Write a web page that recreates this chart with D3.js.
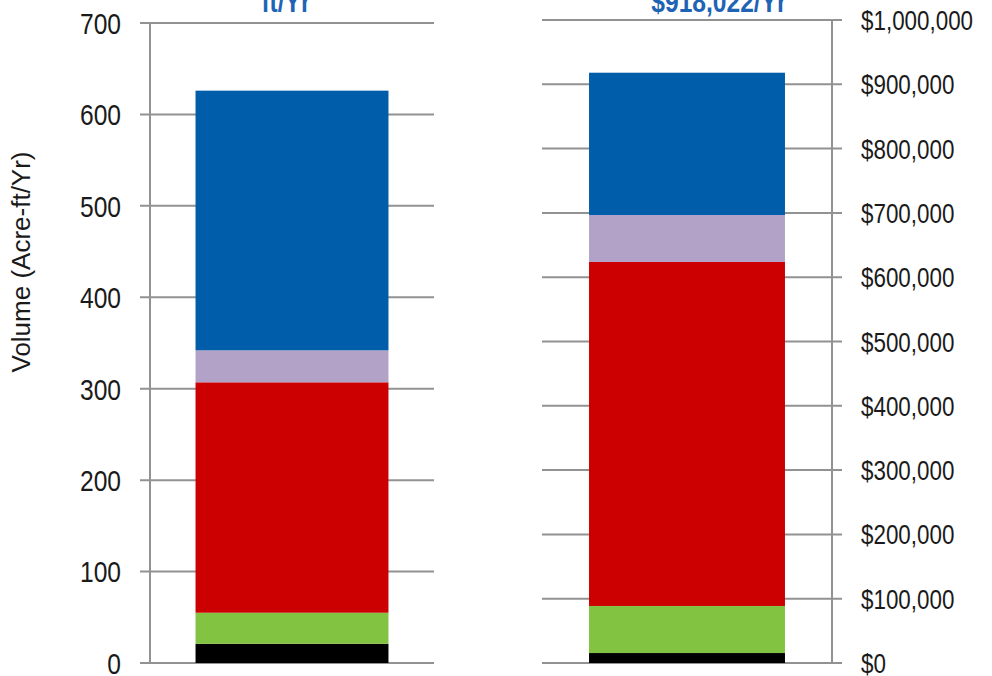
<!DOCTYPE html>
<html>
<head>
<meta charset="utf-8">
<script src="https://cdn.jsdelivr.net/npm/d3@7/dist/d3.min.js"></script>
<style>
  html, body { margin: 0; padding: 0; background: #fff; }
  svg { display: block; }
  text { font-family: "Liberation Sans", Arial, sans-serif; }
</style>
</head>
<body>
<svg id="chart" width="992" height="676"></svg>
<script>
// ---- data ----
const segments = ["Black", "Green", "Red", "Purple", "Blue"];
const segmentColors = ["#000000", "#82C341", "#CC0000", "#B3A2C7", "#005DAA"];
const volumeValues = [21, 34, 252, 35, 284];              // Acre-ft/Yr
const costValues = [15500, 73200, 535000, 73000, 221322];  // $/Yr
const volumeTicks = [0, 100, 200, 300, 400, 500, 600, 700];
const costTicks = [0, 100000, 200000, 300000, 400000, 500000, 600000, 700000, 800000, 900000, 1000000];
const volumeTitle = "ft/Yr";
const costTitle = "$918,022/Yr";
const volumeAxisLabel = "Volume (Acre-ft/Yr)";

const svg = d3.select("#chart");
const gridColor = "#929292";
const textColor = "#1a1a1a";
const narrow = 0.82;

// ---- scales ----
const yL = d3.scaleLinear().domain([0, 700]).range([663, 23]);
const yR = d3.scaleLinear().domain([0, 1000000]).range([663, 20]);
const xL = d3.scaleBand().domain(["Volume"]).range([150, 434]).paddingInner(0).paddingOuter(0.236);
const xR = d3.scaleBand().domain(["Cost"]).range([542, 832]).paddingInner(0).paddingOuter(0.24);

function stackOf(values) {
  let acc = 0;
  return values.map((v, i) => { const s = { y0: acc, y1: acc + v, color: segmentColors[i], name: segments[i] }; acc += v; return s; });
}

// ---- left panel ----
const gL = svg.append("g");
gL.selectAll("line.grid").data(volumeTicks).join("line")
  .attr("x1", 140).attr("x2", 434)
  .attr("y1", d => yL(d)).attr("y2", d => yL(d))
  .attr("stroke", gridColor).attr("stroke-width", 2);
gL.append("line").attr("x1", 150).attr("x2", 150).attr("y1", yL(700)).attr("y2", yL(0))
  .attr("stroke", gridColor).attr("stroke-width", 2);
gL.selectAll("rect").data(stackOf(volumeValues)).join("rect")
  .attr("x", xL("Volume")).attr("width", xL.bandwidth())
  .attr("y", d => yL(d.y1)).attr("height", d => yL(d.y0) - yL(d.y1))
  .attr("fill", d => d.color);
gL.selectAll("text.tick").data(volumeTicks).join("text")
  .attr("transform", d => `translate(121,${yL(d)}) scale(${narrow},1)`)
  .attr("dy", "0.36em")
  .attr("text-anchor", "end").attr("font-size", 30).attr("fill", textColor)
  .text(d => d3.format("d")(d));
svg.append("text")
  .attr("transform", "translate(30,262) rotate(-90)")
  .attr("text-anchor", "middle").attr("font-size", 26).attr("fill", textColor)
  .text(volumeAxisLabel);
svg.append("text")
  .attr("transform", `translate(286,12) scale(${narrow},1)`)
  .attr("text-anchor", "middle")
  .attr("font-size", 30).attr("font-weight", "bold").attr("fill", "#1F64B4")
  .text(volumeTitle);

// ---- right panel ----
const gR = svg.append("g");
gR.selectAll("line.grid").data(costTicks).join("line")
  .attr("x1", 542).attr("x2", 842)
  .attr("y1", d => yR(d)).attr("y2", d => yR(d))
  .attr("stroke", gridColor).attr("stroke-width", 2);
gR.append("line").attr("x1", 832).attr("x2", 832).attr("y1", yR(1000000)).attr("y2", yR(0))
  .attr("stroke", gridColor).attr("stroke-width", 2);
gR.selectAll("rect").data(stackOf(costValues)).join("rect")
  .attr("x", xR("Cost")).attr("width", xR.bandwidth())
  .attr("y", d => yR(d.y1)).attr("height", d => yR(d.y0) - yR(d.y1))
  .attr("fill", d => d.color);
const fmtCost = d => "$" + d3.format(",")(d);
gR.selectAll("text.tick").data(costTicks).join("text")
  .attr("transform", d => `translate(861,${yR(d)}) scale(0.8,1)`)
  .attr("dy", "0.36em")
  .attr("text-anchor", "start").attr("font-size", 28).attr("fill", textColor)
  .text(fmtCost);
svg.append("text")
  .attr("transform", `translate(719,12) scale(${narrow},1)`)
  .attr("text-anchor", "middle")
  .attr("font-size", 30).attr("font-weight", "bold").attr("fill", "#1F64B4")
  .text(costTitle);
</script>
</body>
</html>
